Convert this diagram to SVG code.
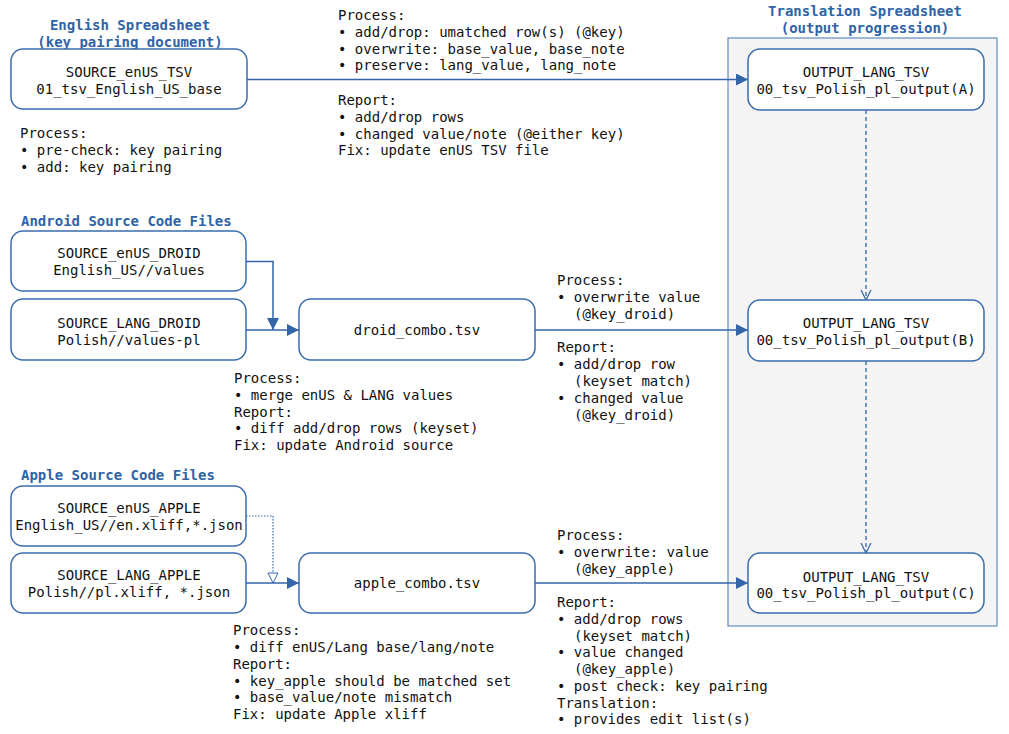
<svg xmlns="http://www.w3.org/2000/svg" width="1009" height="734" viewBox="0 0 1009 734">
<style>
text{font-family:"DejaVu Sans Mono","Liberation Mono",monospace;font-size:14px;fill:#111}
.t{font-weight:bold;fill:#2f63a6}
.c{text-anchor:middle}
.n{fill:#fff;stroke:#3a6cae;stroke-width:1.5}
.e{fill:none;stroke:#3465a8;stroke-width:1.5}
.d{fill:none;stroke:#3465a8;stroke-width:1.3;stroke-dasharray:4 3}
.o{fill:none;stroke:#3465a8;stroke-width:1.2;stroke-dasharray:1.5 1.5}
</style>
<defs>
<marker id="a" viewBox="0 0 12 12" refX="12" refY="6" markerWidth="12" markerHeight="12" markerUnits="userSpaceOnUse" orient="auto"><path d="M0,0L12,6L0,12z" fill="#3465a8"/></marker>
<marker id="v" viewBox="0 0 10 10" refX="10" refY="5" markerWidth="10" markerHeight="12" markerUnits="userSpaceOnUse" orient="auto"><path d="M0,0L10,5L0,10" fill="none" stroke="#3465a8" stroke-width="1.2"/></marker>
<marker id="h" viewBox="0 0 12 12" refX="11" refY="6" markerWidth="12" markerHeight="12" markerUnits="userSpaceOnUse" orient="auto"><path d="M1,1L11,6L1,11z" fill="#fff" stroke="#3465a8" stroke-width="1"/></marker>
</defs>
<rect width="1009" height="734" fill="#fff"/>
<g id="container">
<rect x="728" y="38" width="269" height="588" fill="#f4f4f4" stroke="#7095c6" stroke-width="1.3"/>
<text class="t c" x="865" y="16">Translation Spreadsheet</text>
<text class="t c" x="865" y="33">(output progression)</text>
</g>
<g id="titles">
<text class="t c" x="130" y="30">English Spreadsheet</text>
<text class="t c" x="130" y="47">(key pairing document)</text>
<text class="t" x="21" y="226">Android Source Code Files</text>
<text class="t" x="21" y="480">Apple Source Code Files</text>
</g>
<g id="connectors">
<path class="e" d="M247,79.5H748" marker-end="url(#a)"/>
<path class="e" d="M246,261.5H273V330" marker-end="url(#a)"/>
<path class="e" d="M246,330H299" marker-end="url(#a)"/>
<path class="e" d="M535,330H748" marker-end="url(#a)"/>
<path class="o" d="M246,516H273V583" marker-end="url(#h)"/>
<path class="e" d="M246,583H299" marker-end="url(#a)"/>
<path class="e" d="M535,583H748" marker-end="url(#a)"/>
<path class="d" d="M866,110V300" marker-end="url(#v)"/>
<path class="d" d="M866,361V553" marker-end="url(#v)"/>
</g>
<g id="source_enus_tsv">
<rect class="n" x="11" y="49" width="236" height="60" rx="12"/>
<text class="c" x="129" y="77">SOURCE_enUS_TSV</text>
<text class="c" x="129" y="94">01_tsv_English_US_base</text>
</g>
<g id="output_a">
<rect class="n" x="748" y="49" width="236" height="61" rx="12"/>
<text class="c" x="866" y="77">OUTPUT_LANG_TSV</text>
<text class="c" x="866" y="94">00_tsv_Polish_pl_output(A)</text>
</g>
<g id="output_b">
<rect class="n" x="748" y="300" width="236" height="61" rx="12"/>
<text class="c" x="866" y="328">OUTPUT_LANG_TSV</text>
<text class="c" x="866" y="345">00_tsv_Polish_pl_output(B)</text>
</g>
<g id="output_c">
<rect class="n" x="748" y="553" width="236" height="60" rx="12"/>
<text class="c" x="866" y="582">OUTPUT_LANG_TSV</text>
<text class="c" x="866" y="598">00_tsv_Polish_pl_output(C)</text>
</g>
<g id="source_enus_droid">
<rect class="n" x="11" y="231" width="235" height="60" rx="12"/>
<text class="c" x="129" y="258">SOURCE_enUS_DROID</text>
<text class="c" x="129" y="275">English_US//values</text>
</g>
<g id="source_lang_droid">
<rect class="n" x="11" y="299" width="235" height="61" rx="12"/>
<text class="c" x="129" y="328">SOURCE_LANG_DROID</text>
<text class="c" x="129" y="345">Polish//values-pl</text>
</g>
<g id="droid_combo">
<rect class="n" x="299" y="299" width="236" height="61" rx="12"/>
<text class="c" x="417" y="335">droid_combo.tsv</text>
</g>
<g id="source_enus_apple">
<rect class="n" x="11" y="486" width="235" height="60" rx="12"/>
<text class="c" x="129" y="513">SOURCE_enUS_APPLE</text>
<text class="c" x="129" y="530">English_US//en.xliff,*.json</text>
</g>
<g id="source_lang_apple">
<rect class="n" x="11" y="553" width="235" height="60" rx="12"/>
<text class="c" x="129" y="580">SOURCE_LANG_APPLE</text>
<text class="c" x="129" y="597">Polish//pl.xliff, *.json</text>
</g>
<g id="apple_combo">
<rect class="n" x="299" y="553" width="236" height="60" rx="12"/>
<text class="c" x="417" y="588">apple_combo.tsv</text>
</g>
<g id="notes">
<text x="20" y="138">Process:</text>
<text x="20" y="155">• pre-check: key pairing</text>
<text x="20" y="172">• add: key pairing</text>
<text x="338" y="20">Process:</text>
<text x="338" y="37">• add/drop: umatched row(s) (@key)</text>
<text x="338" y="53.5">• overwrite: base_value, base_note</text>
<text x="338" y="70">• preserve: lang_value, lang_note</text>
<text x="338" y="105">Report:</text>
<text x="338" y="122">• add/drop rows</text>
<text x="338" y="138.5">• changed value/note (@either key)</text>
<text x="338" y="155">Fix: update enUS TSV file</text>
<text x="234" y="383">Process:</text>
<text x="234" y="400">• merge enUS &amp; LANG values</text>
<text x="234" y="416.5">Report:</text>
<text x="234" y="433">• diff add/drop rows (keyset)</text>
<text x="234" y="450">Fix: update Android source</text>
<text x="557" y="285">Process:</text>
<text x="557" y="302">• overwrite value</text>
<text x="574" y="319">(@key_droid)</text>
<text x="557" y="352">Report:</text>
<text x="557" y="369">• add/drop row</text>
<text x="574" y="386">(keyset match)</text>
<text x="557" y="403">• changed value</text>
<text x="574" y="420">(@key_droid)</text>
<text x="233" y="635">Process:</text>
<text x="233" y="652">• diff enUS/Lang base/lang/note</text>
<text x="233" y="669">Report:</text>
<text x="233" y="685.5">• key_apple should be matched set</text>
<text x="233" y="702">• base_value/note mismatch</text>
<text x="233" y="719">Fix: update Apple xliff</text>
<text x="557" y="540">Process:</text>
<text x="557" y="557">• overwrite: value</text>
<text x="574" y="573.5">(@key_apple)</text>
<text x="557" y="607">Report:</text>
<text x="557" y="624">• add/drop rows</text>
<text x="574" y="640.5">(keyset match)</text>
<text x="557" y="657">• value changed</text>
<text x="574" y="674">(@key_apple)</text>
<text x="557" y="691">• post check: key pairing</text>
<text x="557" y="707.5">Translation:</text>
<text x="557" y="724">• provides edit list(s)</text>
</g>
</svg>
